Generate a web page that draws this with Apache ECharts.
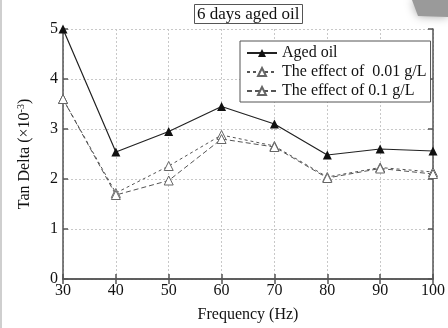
<!DOCTYPE html>
<html>
<head>
<meta charset="utf-8">
<script src="https://cdn.jsdelivr.net/npm/echarts@6/dist/echarts.min.js"></script>
<style>
  html, body { margin: 0; padding: 0; background: #fff; }
  #chart { width: 448px; height: 328px; }
</style>
</head>
<body>
<div id="chart"></div>
<script>
// Frequency (Hz) on x, Tan Delta (x10^-3) on y
const frequency = [30, 40, 50, 60, 70, 80, 90, 100];
const agedOil = [5.0, 2.54, 2.95, 3.45, 3.1, 2.48, 2.6, 2.56];
const effect001 = [3.6, 1.72, 2.26, 2.88, 2.66, 2.04, 2.23, 2.14];
const effect01 = [3.6, 1.68, 1.97, 2.8, 2.64, 2.02, 2.21, 2.1];
const seriesNames = ['Aged oil', 'The effect of  0.01 g/L', 'The effect of 0.1 g/L'];

const font = '"Liberation Serif", "DejaVu Serif", serif';
const axisColor = '#555';

const chart = echarts.init(document.getElementById('chart'));

const pair = (ys) => frequency.map((x, i) => [x, ys[i]]);

// mirrored axes on top/right only carry inward ticks
const plainAxis = {
  axisLine: { show: true, lineStyle: { color: axisColor, width: 1.5 } },
  axisTick: { show: true, inside: true, length: 5, lineStyle: { color: axisColor, width: 1.5 } },
};

const option = {
  backgroundColor: '#fff',
  animation: false,
  title: {
    text: '6 days aged oil',
    left: 194,
    top: 4,
    padding: [2, 3, 1, 3],
    borderColor: axisColor,
    borderWidth: 1,
    textStyle: { fontFamily: font, fontSize: 17, fontWeight: 'normal', color: '#111' },
  },
  legend: {
    orient: 'vertical',
    left: 240,
    top: 41,
    padding: [4, 4, 3, 6],
    itemGap: 3,
    itemWidth: 30,
    itemHeight: 10,
    backgroundColor: '#fff',
    borderColor: axisColor,
    borderWidth: 1,
    textStyle: { fontFamily: font, fontSize: 16, color: '#111' },
    data: seriesNames,
  },
  grid: { left: 63, right: 13, top: 29, bottom: 49, containLabel: false },
  xAxis: [
    {
      type: 'value',
      min: 30,
      max: 100,
      interval: 10,
      name: 'Frequency (Hz)',
      nameLocation: 'middle',
      nameGap: 28,
      nameTextStyle: { fontFamily: font, fontSize: 16, color: '#111' },
      axisLabel: { fontFamily: font, fontSize: 16, color: '#111', margin: 4 },
      splitLine: { show: true, lineStyle: { color: '#c8c8c8', type: [2, 2] } },
      ...plainAxis,
    },
    {
      type: 'value',
      position: 'top',
      min: 30,
      max: 100,
      interval: 10,
      axisLabel: { show: false },
      splitLine: { show: false },
      ...plainAxis,
    },
  ],
  yAxis: [
    {
      type: 'value',
      min: 0,
      max: 5,
      interval: 1,
      name: '{n|Tan Delta (×10}{s|-3}{n|)}',
      nameLocation: 'middle',
      nameGap: 29,
      nameTextStyle: {
        rich: {
          n: { fontFamily: font, fontSize: 16, color: '#111' },
          s: { fontFamily: font, fontSize: 10, color: '#111', verticalAlign: 'top', padding: [0, 0, 8, 0] },
        },
      },
      axisLabel: { fontFamily: font, fontSize: 16, color: '#111', margin: 5 },
      splitLine: { show: true, lineStyle: { color: '#c8c8c8', type: [2, 2] } },
      ...plainAxis,
    },
    {
      type: 'value',
      position: 'right',
      min: 0,
      max: 5,
      interval: 1,
      axisLabel: { show: false },
      splitLine: { show: false },
      ...plainAxis,
    },
  ],
  graphic: [
    { type: 'rect', left: 0, top: 0, shape: { width: 2, height: 328 }, style: { fill: '#cfcfcf' }, silent: true },
    {
      type: 'polygon',
      shape: { points: [[412, 0], [448, 0], [448, 17], [418, 16]] },
      style: { fill: '#9a9a9a', shadowBlur: 10, shadowColor: 'rgba(0,0,0,0.35)' },
      silent: true,
      z: -1,
    },
  ],
  series: [
    {
      name: seriesNames[0],
      type: 'line',
      data: pair(agedOil),
      symbol: 'triangle',
      symbolSize: 9,
      lineStyle: { color: '#222', width: 1.2 },
      itemStyle: { color: '#111' },
      z: 3,
    },
    {
      name: seriesNames[1],
      type: 'line',
      data: pair(effect001),
      symbol: 'triangle',
      symbolSize: 9,
      lineStyle: { color: '#555', width: 1, type: [3, 3] },
      itemStyle: { color: '#fff', borderColor: '#666', borderWidth: 1 },
      z: 2,
    },
    {
      name: seriesNames[2],
      type: 'line',
      data: pair(effect01),
      symbol: 'triangle',
      symbolSize: 9,
      lineStyle: { color: '#555', width: 1, type: [5, 3] },
      itemStyle: { color: '#fff', borderColor: '#666', borderWidth: 1 },
      z: 2,
    },
  ],
};

chart.setOption(option);
</script>
</body>
</html>
